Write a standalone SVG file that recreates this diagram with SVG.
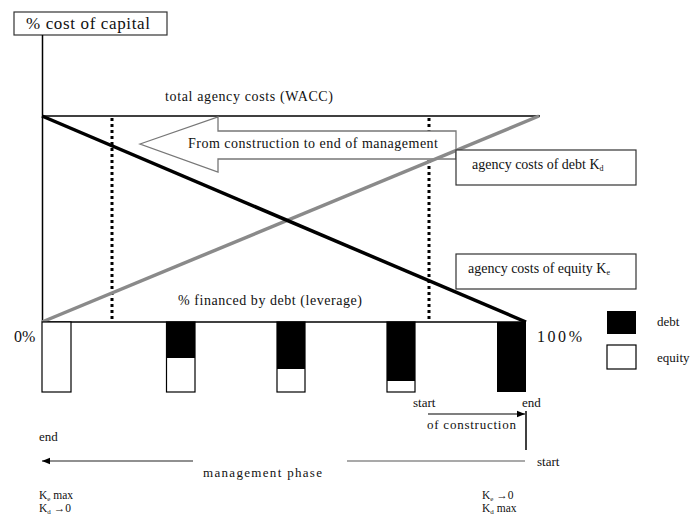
<svg xmlns="http://www.w3.org/2000/svg" width="696" height="516" viewBox="0 0 696 516">
<style>
text{font-family:"Liberation Serif","Times New Roman",serif;fill:#111;}
.t14{font-size:14px;}
.t13{font-size:13px;}
.t11{font-size:11.5px;}
.box{fill:#fff;stroke:#333;stroke-width:1.2;}
.bar{stroke:#000;stroke-width:1.2;}
.dot{stroke:#000;stroke-width:3;stroke-dasharray:3 3;fill:none;}
.ax{stroke:#000;stroke-width:1.5;fill:none;}
</style>
<defs>
<marker id="ah" viewBox="0 0 10 10" refX="10" refY="5" markerWidth="8" markerHeight="8" markerUnits="userSpaceOnUse" orient="auto">
<path d="M0,1 L10,5 L0,9 z" fill="#000"/>
</marker>
</defs>
<rect width="696" height="516" fill="#fff"/>

<g id="title">
<rect class="box" x="14" y="12" width="153" height="23"/>
<text x="26" y="29" style="font-size:17px" textLength="124" lengthAdjust="spacing">% cost of capital</text>
</g>

<g id="axes">
<line class="ax" x1="42.5" y1="35" x2="42.5" y2="322"/>
<line class="ax" x1="42" y1="116" x2="540" y2="116"/>
<line class="ax" x1="42" y1="322" x2="526" y2="322"/>
</g>

<g id="dotted">
<line class="dot" x1="112" y1="118" x2="112" y2="322"/>
<line class="dot" x1="429" y1="118" x2="429" y2="322"/>
</g>

<g id="wacc-label">
<text class="t14" x="165" y="101" textLength="168" lengthAdjust="spacing">total agency costs (WACC)</text>
</g>

<g id="big-arrow">
<polygon points="140,144 218,117 218,131 456,131 456,159 218,159 218,172" fill="#fff" stroke="#777" stroke-width="1.3"/>
<text class="t14" x="188" y="148" textLength="250" lengthAdjust="spacing">From construction to end of management</text>
</g>

<g id="curves">
<line x1="42" y1="322" x2="539" y2="116" stroke="#8a8a8a" stroke-width="3.5"/>
<line x1="42" y1="116" x2="526" y2="322" stroke="#000" stroke-width="3.5"/>
</g>

<g id="debt-box">
<rect class="box" x="456" y="150" width="180" height="35"/>
<text class="t14" x="472" y="169">agency costs of debt <tspan>K</tspan><tspan font-size="8" dy="2">d</tspan></text>
</g>

<g id="equity-box">
<rect class="box" x="456" y="254" width="180" height="35"/>
<text class="t14" x="468" y="273">agency costs of equity <tspan>K</tspan><tspan font-size="8" dy="2">e</tspan></text>
</g>

<g id="leverage-label">
<text class="t14" x="178" y="305" textLength="184" lengthAdjust="spacing">% financed by debt (leverage)</text>
</g>

<g id="pct-labels">
<text x="14" y="342" style="font-size:16px">0%</text>
<text x="537" y="342" style="font-size:16px" textLength="45" lengthAdjust="spacing">100%</text>
</g>

<g id="bars">
<rect class="bar" x="42" y="322" width="29" height="70" fill="#fff"/>
<rect class="bar" x="166.5" y="322" width="28.5" height="70" fill="#fff"/>
<rect x="166.5" y="322" width="28.5" height="36" fill="#000"/>
<rect class="bar" x="277" y="322" width="28" height="70" fill="#fff"/>
<rect x="277" y="322" width="28" height="47" fill="#000"/>
<rect class="bar" x="387" y="322" width="28" height="70" fill="#fff"/>
<rect x="387" y="322" width="28" height="59" fill="#000"/>
<rect x="497" y="322" width="29" height="70" fill="#000"/>
</g>

<g id="legend">
<rect x="607" y="311" width="29" height="23" fill="#000"/>
<text class="t13" x="657" y="326">debt</text>
<rect class="bar" x="607" y="345" width="29" height="24" fill="#fff"/>
<text class="t13" x="657" y="362">equity</text>
</g>

<g id="construction">
<text class="t13" x="413" y="407">start</text>
<text class="t13" x="522" y="407">end</text>
<line x1="428" y1="414" x2="525" y2="414" stroke="#000" stroke-width="1.2" marker-end="url(#ah)"/>
<line x1="526" y1="411" x2="526" y2="450" stroke="#000" stroke-width="1.5"/>
<text class="t13" x="427" y="429" textLength="89" lengthAdjust="spacing">of construction</text>
</g>

<g id="management">
<text class="t13" x="39" y="441">end</text>
<line x1="193" y1="461" x2="42" y2="461" stroke="#222" stroke-width="1.2" marker-end="url(#ah)"/>
<line x1="347" y1="461" x2="525" y2="461" stroke="#555" stroke-width="1.2"/>
<text class="t13" x="203" y="477" textLength="119" lengthAdjust="spacing">management phase</text>
<text class="t13" x="537" y="466">start</text>
</g>

<g id="end-notes">
<text class="t11" x="39" y="499">K<tspan font-size="7" dy="1.5">e</tspan><tspan dy="-1.5"> max</tspan></text>
<text class="t11" x="39" y="512">K<tspan font-size="7" dy="1.5">d</tspan><tspan dy="-1.5"> →0</tspan></text>
<text class="t11" x="482" y="499">K<tspan font-size="7" dy="1.5">e</tspan><tspan dy="-1.5"> →0</tspan></text>
<text class="t11" x="482" y="512">K<tspan font-size="7" dy="1.5">d</tspan><tspan dy="-1.5"> max</tspan></text>
</g>
</svg>
